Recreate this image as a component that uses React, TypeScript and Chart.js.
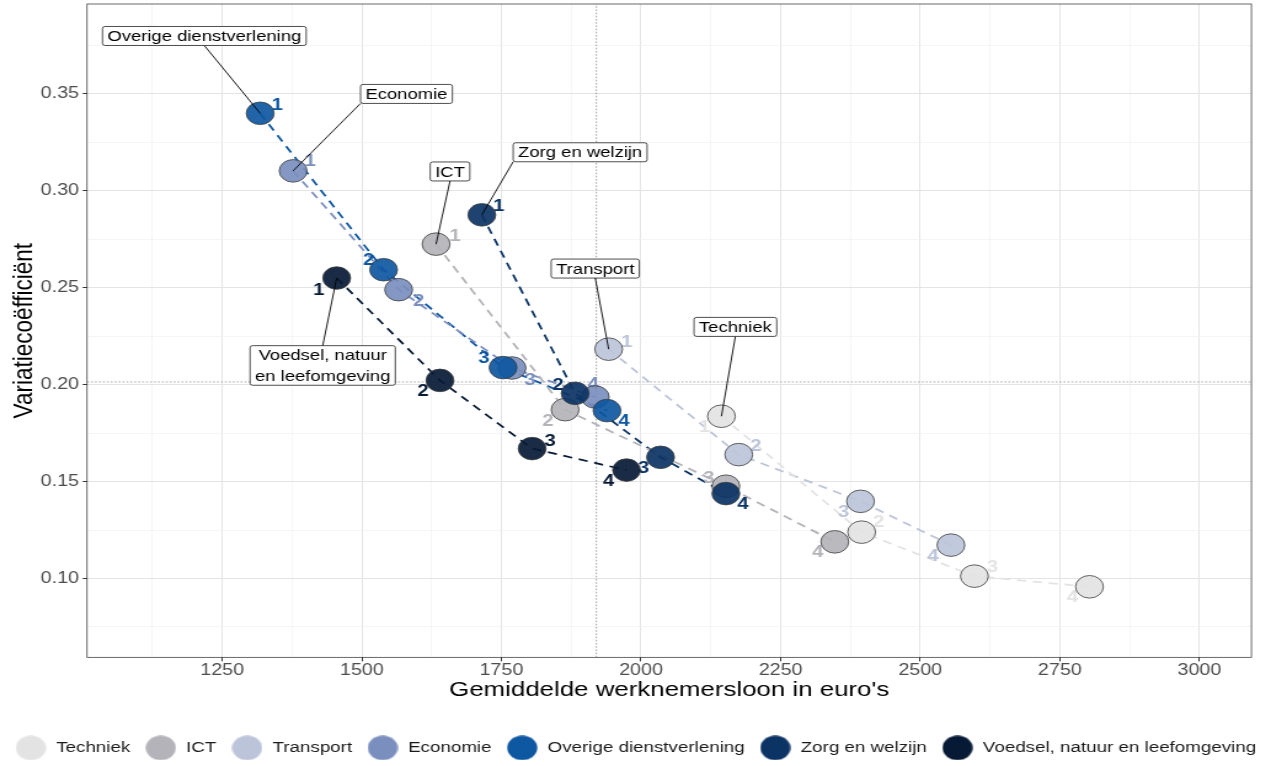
import React, { useEffect, useRef } from "react";
import { Chart, registerables } from "chart.js";

Chart.register(...registerables);

// ---------- data ----------
const seriesNames = [
  "Techniek",
  "ICT",
  "Transport",
  "Economie",
  "Overige dienstverlening",
  "Zorg en welzijn",
  "Voedsel, natuur en leefomgeving",
];
const seriesColors = ["#e3e3e3", "#b3b3b9", "#bcc4da", "#7b8fbe", "#0e57a1", "#0b3364", "#061a35"];
const stepLabels = ["1", "2", "3", "4"];

const techniekWage = [2144, 2395, 2597, 2803];
const techniekCV = [0.1837, 0.1239, 0.1012, 0.0957];
const ictWage = [1633, 1864, 2152, 2347];
const ictCV = [0.2725, 0.1871, 0.1476, 0.1189];
const transportWage = [1942, 2175, 2393, 2555];
const transportCV = [0.2183, 0.1639, 0.1398, 0.1172];
const economieWage = [1377, 1566, 1769, 1918];
const economieCV = [0.3103, 0.249, 0.2086, 0.1936];
const overigeWage = [1318, 1539, 1753, 1939];
const overigeCV = [0.34, 0.2593, 0.2088, 0.1866];
const zorgWage = [1715, 1882, 2035, 2152];
const zorgCV = [0.2876, 0.1955, 0.1625, 0.1438];
const voedselWage = [1455, 1640, 1805, 1974];
const voedselCV = [0.255, 0.2022, 0.167, 0.1559];

const wageBySeries = [techniekWage, ictWage, transportWage, economieWage, overigeWage, zorgWage, voedselWage];
const cvBySeries = [techniekCV, ictCV, transportCV, economieCV, overigeCV, zorgCV, voedselCV];

// reference lines (means)
const meanWage = 1920;
const meanCV = 0.2014;

// axes
const xMin = 1008;
const xMax = 3093;
const yMin = 0.0593;
const yMax = 0.3964;
const xTickValues = [1125, 1250, 1375, 1500, 1625, 1750, 1875, 2000, 2125, 2250, 2375, 2500, 2625, 2750, 2875, 3000];
const xTickLabels = ["1250", "1500", "1750", "2000", "2250", "2500", "2750", "3000"];
const yTickValues = [0.075, 0.1, 0.125, 0.15, 0.175, 0.2, 0.225, 0.25, 0.275, 0.3, 0.325, 0.35, 0.375];
const yTickLabels = ["0.10", "0.15", "0.20", "0.25", "0.30", "0.35"];

// callout labels (series name boxes), anchored in data units
const calloutText = [
  "Techniek",
  "ICT",
  "Transport",
  "Economie",
  "Overige dienstverlening",
  "Zorg en welzijn",
  "Voedsel, natuur\nen leefomgeving",
];
const calloutWage = [2169, 1658, 1918, 1580, 1218, 1891, 1430];
const calloutCV = [0.2298, 0.31, 0.2599, 0.35, 0.3799, 0.3199, 0.2099];

// offsets (px) of the step numbers relative to their point
const numberOffsets = [
  [[-17, 11], [17, -10], [18, -9], [-17, 11]],
  [[19, -8], [-17, 12], [-17, -8], [-17, 11]],
  [[18, -7], [17, -8], [-17, 11], [-18, 11]],
  [[17, -9], [20, 12], [18, 12], [-2, -13]],
  [[17, -8], [-15, -9], [-19, -9], [17, 11]],
  [[17, -8], [-17, -8], [-17, 11], [17, 11]],
  [[-18, 12], [-17, 11], [18, -7], [-18, 11]],
];

// ---------- layout ----------
const FONT = "'Liberation Sans', Arial, Helvetica, sans-serif";
const S = 1.23; // horizontal stretch of the picture
const W = 1271;
const H = 766;
const CW = Math.round(W / S);
const PLOT_LEFT = 87 / S;
const PLOT_RIGHT = 1251 / S;

function circleImage(color: string, d: number) {
  const c = document.createElement("canvas");
  c.width = d;
  c.height = d;
  const g = c.getContext("2d")!;
  g.fillStyle = color;
  g.beginPath();
  g.arc(d / 2, d / 2, d / 2 - 0.3, 0, Math.PI * 2);
  g.fill();
  return c;
}

const isMajorY = (v: number) => Math.abs(v * 20 - Math.round(v * 20)) < 1e-6;
const isMajorX = (v: number) => xTickLabels.includes(String(v));

const panelBorder = {
  id: "panelBorder",
  afterDatasetsDraw(chart: any) {
    const { ctx, chartArea: a } = chart;
    ctx.save();
    ctx.strokeStyle = "#444";
    ctx.lineWidth = 0.8;
    ctx.strokeRect(a.left, a.top, a.right - a.left, a.bottom - a.top);
    ctx.restore();
  },
};

const stepNumbers = {
  id: "stepNumbers",
  beforeDatasetDraw(chart: any, args: any) {
    const ds = chart.data.datasets[args.index];
    if (ds.role !== "points" || ds.series !== 0) return;
    const { ctx, scales } = chart;
    ctx.save();
    ctx.font = `bold 16.5px ${FONT}`;
    ctx.textAlign = "center";
    ctx.textBaseline = "middle";
    wageBySeries.forEach((wages, s) => {
      ctx.fillStyle = seriesColors[s];
      wages.forEach((w, j) => {
        const [dx, dy] = numberOffsets[s][j];
        ctx.fillText(
          stepLabels[j],
          scales.x.getPixelForValue(w) + dx / S,
          scales.y.getPixelForValue(cvBySeries[s][j]) + dy
        );
      });
    });
    ctx.restore();
  },
};

const callouts = {
  id: "callouts",
  afterDatasetsDraw(chart: any) {
    const { ctx, scales } = chart;
    ctx.save();
    ctx.font = `15px ${FONT}`;
    const padX = 4;
    const padY = 2;
    const textH = 15;
    const gap = 20.6;
    calloutText.forEach((txt, s) => {
      const lines = txt.split("\n");
      const cx = scales.x.getPixelForValue(calloutWage[s]);
      const cy = scales.y.getPixelForValue(calloutCV[s]);
      const tw = Math.max(...lines.map((l) => ctx.measureText(l).width));
      const bw = tw + padX * 2;
      const bh = textH + gap * (lines.length - 1) + padY * 2;
      const x1 = cx - bw / 2, x2 = cx + bw / 2, y1 = cy - bh / 2, y2 = cy + bh / 2;
      const px = scales.x.getPixelForValue(wageBySeries[s][0]);
      const py = scales.y.getPixelForValue(cvBySeries[s][0]);
      const ex = px < x1 ? x1 : px > x2 ? x2 : cx;
      const ey = py < y1 ? y1 : py > y2 ? y2 : cy;
      ctx.strokeStyle = "#000";
      ctx.lineWidth = 0.9;
      ctx.beginPath();
      ctx.moveTo(px, py);
      ctx.lineTo(ex, ey);
      ctx.stroke();
      const r = 2;
      ctx.beginPath();
      ctx.moveTo(x1 + r, y1);
      ctx.lineTo(x2 - r, y1);
      ctx.quadraticCurveTo(x2, y1, x2, y1 + r);
      ctx.lineTo(x2, y2 - r);
      ctx.quadraticCurveTo(x2, y2, x2 - r, y2);
      ctx.lineTo(x1 + r, y2);
      ctx.quadraticCurveTo(x1, y2, x1, y2 - r);
      ctx.lineTo(x1, y1 + r);
      ctx.quadraticCurveTo(x1, y1, x1 + r, y1);
      ctx.closePath();
      ctx.fillStyle = "#fff";
      ctx.fill();
      ctx.lineWidth = 0.7;
      ctx.stroke();
      ctx.fillStyle = "#000";
      ctx.textAlign = "center";
      ctx.textBaseline = "middle";
      lines.forEach((l, k) => {
        ctx.fillText(l, cx, y1 + padY + textH / 2 + 1 + k * gap);
      });
    });
    ctx.restore();
  },
};

export default function App() {
  const ref = useRef<HTMLCanvasElement>(null);

  useEffect(() => {
    const canvas = ref.current!;
    const legendImages = seriesColors.map((c) => circleImage(c, 25));

    const meanSets: any[] = [
      {
        label: "meanWage",
        role: "ref",
        data: [{ x: meanWage, y: yMin }, { x: meanWage, y: yMax }],
        showLine: true,
        borderColor: "#8a8a8a",
        borderWidth: 0.8,
        borderDash: [1.6, 1.6],
        pointRadius: 0,
        order: 30,
      },
      {
        label: "meanCV",
        role: "ref",
        data: [{ x: xMin, y: meanCV }, { x: xMax, y: meanCV }],
        showLine: true,
        borderColor: "#a0a0a0",
        borderWidth: 0.9,
        borderDash: [1.6, 1.6],
        pointRadius: 0,
        order: 30,
      },
    ];

    const lineSets: any[] = seriesNames.map((name, s) => ({
      label: name + " lijn",
      role: "line",
      series: s,
      data: wageBySeries[s].map((w, j) => ({ x: w, y: cvBySeries[s][j] })),
      showLine: true,
      borderColor: seriesColors[s],
      borderWidth: 1.8,
      borderDash: [7.5, 5.5],
      pointRadius: 0,
      order: 20,
    }));

    const pointSets: any[] = seriesNames.map((name, s) => ({
      label: name,
      role: "points",
      series: s,
      data: wageBySeries[s].map((w, j) => ({ x: w, y: cvBySeries[s][j] })),
      showLine: false,
      pointRadius: 11.3,
      pointBorderWidth: 0.8,
      pointBorderColor: "#3c3c3c",
      pointBackgroundColor: seriesColors[s] + "eb",
      backgroundColor: seriesColors[s],
      borderColor: seriesColors[s],
      order: 6 - s,
    }));

    const datasets = [...pointSets, ...lineSets, ...meanSets];

    const chart = new Chart(canvas, {
      type: "scatter",
      data: { datasets },
      plugins: [stepNumbers, panelBorder, callouts],
      options: {
        responsive: false,
        animation: false,
        devicePixelRatio: 1,
        events: [],
        layout: { autoPadding: false, padding: { top: 4, right: 0, bottom: 0.5, left: 0 } },
        font: { family: FONT },
        scales: {
          x: {
            type: "linear",
            min: xMin,
            max: xMax,
            afterBuildTicks: (scale: any) => {
              scale.ticks = xTickValues.map((v) => ({ value: v }));
            },
            afterFit: (scale: any) => {
              scale.height = 71;
              scale.paddingLeft = 0;
              scale.paddingRight = 0;
            },
            ticks: {
              autoSkip: false,
              maxRotation: 0,
              padding: 0,
              color: "#4d4d4d",
              font: { family: FONT, size: 16 },
              callback: (v: any) => (isMajorX(v) ? String(v) : ""),
            },
            grid: {
              color: (c: any) => (isMajorX(c.tick?.value) ? "#e4e4e4" : "#f1f1f1"),
              lineWidth: (c: any) => (isMajorX(c.tick?.value) ? 1 : 0.7),
              tickColor: (c: any) => (isMajorX(c.tick?.value) ? "#333" : "rgba(0,0,0,0)"),
              tickLength: 4,
              drawTicks: true,
            },
            border: { display: false },
            title: {
              display: true,
              text: "Gemiddelde werknemersloon in euro's",
              color: "#000",
              font: { family: FONT, size: 21 },
              padding: { top: 0, bottom: 25.4 },
            },
          },
          y: {
            type: "linear",
            min: yMin,
            max: yMax,
            afterBuildTicks: (scale: any) => {
              scale.ticks = yTickValues.map((v) => ({ value: v }));
            },
            afterFit: (scale: any) => {
              scale.width = PLOT_LEFT;
              scale.paddingTop = 0;
              scale.paddingBottom = 0;
            },
            ticks: {
              autoSkip: false,
              padding: 3,
              color: "#4d4d4d",
              font: { family: FONT, size: 16 },
              callback: (v: any) => {
                const lab = Number(v).toFixed(2);
                return isMajorY(Number(v)) && yTickLabels.includes(lab) ? lab : "";
              },
            },
            grid: {
              color: (c: any) => (isMajorY(c.tick?.value ?? 0) ? "#e4e4e4" : "#f1f1f1"),
              lineWidth: (c: any) => (isMajorY(c.tick?.value ?? 0) ? 1 : 0.7),
              tickColor: (c: any) => (isMajorY(c.tick?.value ?? 0) ? "#333" : "rgba(0,0,0,0)"),
              tickLength: 3.5,
              drawTicks: true,
            },
            border: { display: false },
            title: {
              display: true,
              text: "Variatiecoëfficiënt",
              color: "#000",
              font: { family: FONT, size: 22.5 },
              padding: { top: 6, bottom: 0 },
            },
          },
          yRight: {
            type: "linear",
            position: "right",
            display: true,
            afterFit: (scale: any) => {
              scale.width = CW - PLOT_RIGHT;
              scale.paddingTop = 0;
              scale.paddingBottom = 0;
            },
            ticks: { display: false },
            grid: { display: false, drawTicks: false },
            border: { display: false },
          },
        },
        plugins: {
          tooltip: { enabled: false },
          title: { display: false },
          legend: {
            display: true,
            position: "bottom",
            labels: {
              usePointStyle: true,
              pointStyleWidth: 26,
              padding: 11.9,
              color: "#1a1a1a",
              font: { family: FONT, size: 15.25 },
              generateLabels: (ch: any) => {
                const items = (Chart.defaults as any).plugins.legend.labels.generateLabels(ch);
                return items.map((it: any) => {
                  const ds = ch.data.datasets[it.datasetIndex];
                  if (ds.role === "points") {
                    it.pointStyle = legendImages[ds.series];
                  }
                  return it;
                });
              },
              filter: (item: any, data: any) => data.datasets[item.datasetIndex].role === "points",
              sort: (a: any, b: any) => a.datasetIndex - b.datasetIndex,
            },
          },
        },
      } as any,
    });

    return () => chart.destroy();
  }, []);

  return (
    <div style={{ position: "absolute", left: 0, top: 0, width: W, height: H, background: "#fff" }}>
      <canvas
        ref={ref}
        width={CW}
        height={H}
        style={{ width: `${W}px`, height: `${H}px`, display: "block" }}
      />
    </div>
  );
}
